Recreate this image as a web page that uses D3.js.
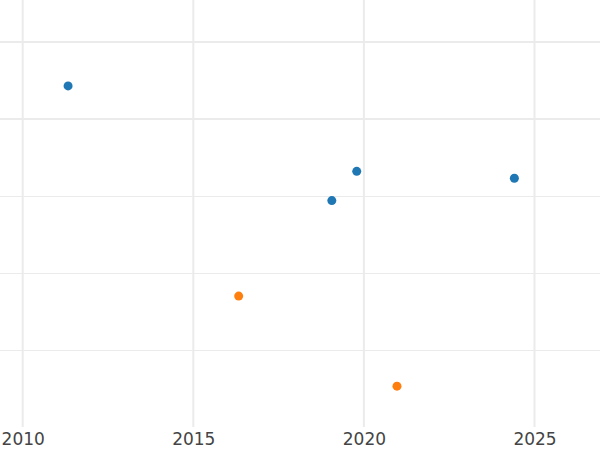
<!DOCTYPE html>
<html>
<head>
<meta charset="utf-8">
<script src="https://cdn.jsdelivr.net/npm/d3@7"></script>
<style>
  body { margin: 0; background: #fff; }
  svg { display: block; }
</style>
</head>
<body>
<svg id="chart" width="600" height="450"></svg>
<script>
// Data
const blueYears = [2011.33, 2019.79, 2019.06, 2024.41];
const blueValues = [4.43, 3.32, 2.94, 3.23];
const orangeYears = [2016.33, 2020.97];
const orangeValues = [1.70, 0.53];
const xTicks = [2010, 2015, 2020, 2025];
const yMajor = [4, 5];
const yMinor = [1, 2, 3];

const width = 600, height = 450;
const plotBottom = 427;

const svg = d3.select('#chart');

const x = d3.scaleLinear().domain([2010, 2025]).range([22.7, 534.5]);
const y = d3.scaleLinear().domain([0, 5]).range([plotBottom, 42]);

// Gridlines
const grid = svg.append('g');
grid.selectAll('line.minor')
  .data(yMinor)
  .enter().append('line')
  .attr('x1', 0).attr('x2', width)
  .attr('y1', d => Math.round(y(d)) + 0.5).attr('y2', d => Math.round(y(d)) + 0.5)
  .attr('stroke', '#ebebeb').attr('stroke-width', 1);

grid.selectAll('line.major')
  .data(yMajor)
  .enter().append('line')
  .attr('x1', 0).attr('x2', width)
  .attr('y1', d => y(d)).attr('y2', d => y(d))
  .attr('stroke', '#ebebeb').attr('stroke-width', 2);

grid.selectAll('line.vx')
  .data(xTicks)
  .enter().append('line')
  .attr('x1', d => x(d)).attr('x2', d => x(d))
  .attr('y1', 0).attr('y2', plotBottom)
  .attr('stroke', '#ebebeb').attr('stroke-width', 2);

// X axis labels
const xAxis = d3.axisBottom(x).tickValues(xTicks).tickFormat(d3.format('d')).tickSize(0).tickPadding(6);
const gx = svg.append('g').attr('transform', 'translate(0,' + plotBottom + ')').call(xAxis);
gx.select('.domain').remove();
gx.selectAll('text')
  .attr('font-family', 'DejaVu Sans, sans-serif')
  .attr('font-size', 17)
  .attr('fill', '#444');

// Points
const series = [
  { years: blueYears, values: blueValues, color: '#1f77b4' },
  { years: orangeYears, values: orangeValues, color: '#ff7f0e' }
];

series.forEach(s => {
  svg.append('g').selectAll('circle')
    .data(s.years.map((yr, i) => [yr, s.values[i]]))
    .enter().append('circle')
    .attr('cx', d => x(d[0]))
    .attr('cy', d => y(d[1]))
    .attr('r', 4.5)
    .attr('fill', s.color);
});
</script>
</body>
</html>
